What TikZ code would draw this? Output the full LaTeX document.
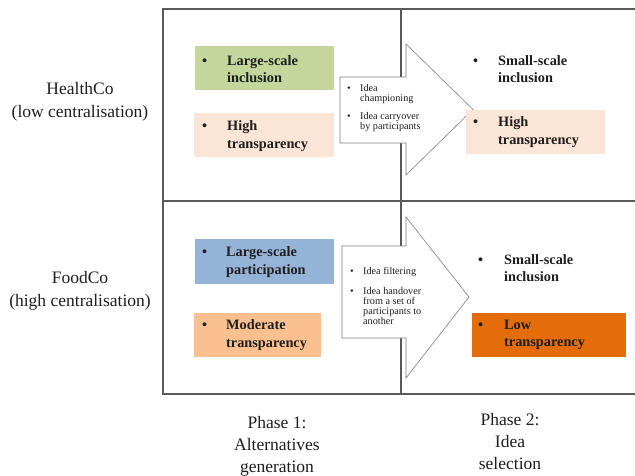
\documentclass[tikz,border=0pt]{standalone}
\usepackage{fontspec}
\setmainfont{Liberation Serif}
\definecolor{framegray}{HTML}{595959}
\definecolor{arrowgray}{HTML}{7F7F7F}
\definecolor{txt}{HTML}{1E1E1E}
\definecolor{cgreen}{HTML}{C3D69B}
\definecolor{cpeach}{HTML}{FBE5D6}
\definecolor{cblue}{HTML}{95B3D7}
\definecolor{corange}{HTML}{FAC090}
\definecolor{cdark}{HTML}{E46C0A}
\begin{document}
\begin{tikzpicture}[x=1pt,y=-1pt,
  frame/.style={draw=framegray, line width=1.3pt},
  bigarrow/.style={draw=arrowgray, fill=white, line width=0.6pt},
  cbox/.style={rectangle, draw=none, inner sep=0pt},
  boxtext/.style={inner sep=0pt, align=left, anchor=west, text=txt,
    font=\fontsize{14.3}{17.5}\selectfont\bfseries},
  arrtext/.style={inner sep=0pt, align=left, anchor=west, text=txt,
    font=\fontsize{10.2}{10}\selectfont},
  sidelabel/.style={inner sep=0pt, align=center, text=txt,
    font=\fontsize{17.5}{23.5}\selectfont},
  phaselabel/.style={inner sep=0pt, align=center, text=txt,
    font=\fontsize{17.5}{22}\selectfont}]
\useasboundingbox (0,0) rectangle (635,475);
\clip (0,0) rectangle (635,475);
% grid
\coordinate (tl) at (163,9);
\coordinate (br) at (636,394);
\draw[frame] (tl) rectangle (br);
\draw[frame] (163,201) -- (636,201);
\draw[frame] (401,9) -- (401,394);
% side labels
\node[sidelabel] (health) at (80,102) {HealthCo\\(low centralisation)};
\node[sidelabel] (food) at (80,291) {FoodCo\\(high centralisation)};
% phase labels
\node[phaselabel, anchor=north] (ph1) at (277,416) {Phase 1:\\Alternatives\\generation};
\node[phaselabel, anchor=north] (ph2) at (510,413) {Phase 2:\\Idea\\selection};
% arrows
\draw[bigarrow] (340,77) -- (406,77) -- (406,44) -- (473,109.5) -- (406,175) -- (406,143) -- (340,143) -- cycle;
\draw[bigarrow] (342,246) -- (406,246) -- (406,217) -- (469,297) -- (406,378) -- (406,338) -- (342,338) -- cycle;
\node[arrtext] (a1t) at (347,108) {\makebox[13pt][l]{\textbullet}Idea\\\hspace*{13pt}championing\\[8pt]\makebox[13pt][l]{\textbullet}Idea carryover\\\hspace*{13pt}by participants};
\node[arrtext] (a2t) at (350,296) {\makebox[13pt][l]{\textbullet}Idea filtering\\[10pt]\makebox[13pt][l]{\textbullet}Idea handover\\\hspace*{13pt}from a set of\\\hspace*{13pt}participants to\\\hspace*{13pt}another};
% boxes top row
\node[cbox, fill=cgreen, minimum width=139pt, minimum height=44pt] (b1) at (264.5,68) {};
\node[cbox, fill=cpeach, minimum width=140pt, minimum height=44pt] (b2) at (264,135) {};
\node[cbox, fill=cpeach, minimum width=139pt, minimum height=44pt] (b3) at (535.5,132) {};
\node[boxtext] (b1t) at (202,69) {\makebox[25pt][l]{\textbullet}Large-scale\\\hspace*{25pt}inclusion};
\node[boxtext] (b2t) at (202,136) {\makebox[25pt][l]{\textbullet}High\\\hspace*{25pt}transparency};
\node[boxtext] (s1t) at (473,69) {\makebox[25pt][l]{\textbullet}Small-scale\\\hspace*{25pt}inclusion};
\node[boxtext] (b3t) at (473,132) {\makebox[25pt][l]{\textbullet}High\\\hspace*{25pt}transparency};
% boxes bottom row
\node[cbox, fill=cblue, minimum width=139pt, minimum height=45pt] (b4) at (264.5,261.5) {};
\node[cbox, fill=corange, minimum width=127pt, minimum height=44pt] (b5) at (257.5,335) {};
\node[cbox, fill=cdark, minimum width=154pt, minimum height=44pt] (b6) at (549,335) {};
\node[boxtext] (b4t) at (202,262) {\makebox[24pt][l]{\textbullet}Large-scale\\\hspace*{24pt}participation};
\node[boxtext] (b5t) at (202,335) {\makebox[24pt][l]{\textbullet}Moderate\\\hspace*{24pt}transparency};
\node[boxtext] (s2t) at (478,268) {\makebox[26pt][l]{\textbullet}Small-scale\\\hspace*{26pt}inclusion};
\node[boxtext] (b6t) at (478,335) {\makebox[26pt][l]{\textbullet}Low\\\hspace*{26pt}transparency};
\end{tikzpicture}
\end{document}
